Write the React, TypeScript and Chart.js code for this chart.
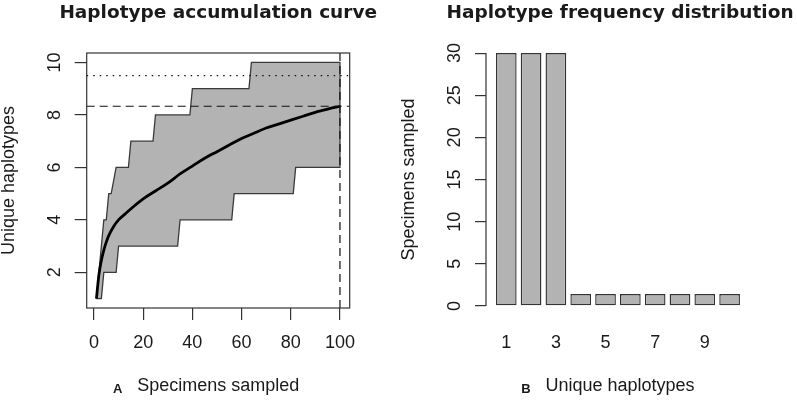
import React, { useEffect, useRef } from "react";
import { Chart, registerables } from "chart.js";

Chart.register(...registerables);

// ---------- Left panel: haplotype accumulation curve ----------
const specimenTicks = [0, 20, 40, 60, 80, 100];
const uniqueTicks = [2, 4, 6, 8, 10];

const meanX = [1, 2, 3, 4, 5, 6, 8, 10, 13, 16, 20, 25, 30, 35, 40, 45, 50, 55, 60, 65, 70, 75, 80, 85, 90, 95, 100];
const meanY = [1, 1.9, 2.45, 2.85, 3.15, 3.4, 3.75, 4.0, 4.25, 4.5, 4.8, 5.1, 5.4, 5.75, 6.05, 6.35, 6.6, 6.85, 7.1, 7.3, 7.5, 7.65, 7.8, 7.95, 8.1, 8.22, 8.33];

const upperX = [1, 4, 5, 6, 7, 9, 14, 15, 24, 25, 39, 40, 63, 64, 100];
const upperY = [1, 4, 4, 5, 5, 6, 6, 7, 7, 8, 8, 9, 9, 10, 10];
const lowerX = [1, 3, 4, 9, 10, 34, 35, 56, 57, 81, 82, 100];
const lowerY = [1, 1, 2, 2, 3, 3, 4, 4, 5, 5, 6, 6];

const dashedLevel = 8.33;
const dottedLevel = 9.5;
const sampleSize = 100;

// ---------- Right panel: haplotype frequency distribution ----------
const haplotypes = [1, 2, 3, 4, 5, 6, 7, 8, 9, 10];
const frequencies = [30, 30, 30, 1.4, 1.4, 1.4, 1.4, 1.4, 1.4, 1.4];
const frequencyTicks = [0, 5, 10, 15, 20, 25, 30];
const haplotypeLabelTicks = [1, 3, 5, 7, 9];

const SANS = "'Liberation Sans', Arial, Helvetica, sans-serif";
const TITLE_FONT = "'DejaVu Sans', Verdana, sans-serif";
const TEXT = "#1a1a1a";
const LINE = "#333333";

function labelsPlugin(title: string, letter: string, axisTitle: string) {
  return {
    id: "labels" + letter,
    afterDraw(chart: any) {
      const { ctx, chartArea } = chart;
      const cx = (chartArea.left + chartArea.right) / 2;
      ctx.save();
      ctx.font = `bold 18.5px ${TITLE_FONT}`;
      ctx.fillStyle = TEXT;
      ctx.textAlign = "center";
      ctx.textBaseline = "alphabetic";
      ctx.fillText(title, cx, 18.4);
      ctx.font = `18px ${SANS}`;
      const w = ctx.measureText(axisTitle).width;
      const titleLeft = cx - w / 2;
      ctx.font = `bold 13px ${SANS}`;
      ctx.fillText(letter, titleLeft - 19.5, chart.height - 8.3);
      ctx.restore();
    },
  };
}

const accumulationDecor = {
  id: "accumulationDecor",
  afterDatasetsDraw(chart: any) {
    const { ctx, chartArea, scales } = chart;
    const { left, right, top, bottom } = chartArea;
    ctx.save();
    ctx.strokeStyle = "#111";
    ctx.lineWidth = 1.2;
    ctx.setLineDash([8, 5]);
    let y = scales.y.getPixelForValue(dashedLevel);
    ctx.beginPath();
    ctx.moveTo(left, y);
    ctx.lineTo(right, y);
    ctx.stroke();
    const x = scales.x.getPixelForValue(sampleSize);
    ctx.beginPath();
    ctx.moveTo(x, bottom);
    ctx.lineTo(x, top);
    ctx.stroke();
    ctx.setLineDash([1.5, 5]);
    y = scales.y.getPixelForValue(dottedLevel);
    ctx.beginPath();
    ctx.moveTo(left, y);
    ctx.lineTo(right, y);
    ctx.stroke();
    ctx.restore();
  },
  afterDraw(chart: any) {
    const { ctx, chartArea } = chart;
    ctx.save();
    ctx.strokeStyle = LINE;
    ctx.lineWidth = 1.2;
    ctx.strokeRect(chartArea.left, chartArea.top, chartArea.right - chartArea.left, chartArea.bottom - chartArea.top);
    ctx.restore();
  },
};

const frequencyDecor = {
  id: "frequencyDecor",
  afterDraw(chart: any) {
    const { ctx, chartArea, scales } = chart;
    const y0 = scales.y.getPixelForValue(frequencyTicks[0]);
    const y1 = scales.y.getPixelForValue(frequencyTicks[frequencyTicks.length - 1]);
    ctx.save();
    ctx.strokeStyle = LINE;
    ctx.lineWidth = 1.2;
    ctx.beginPath();
    ctx.moveTo(chartArea.left, y0);
    ctx.lineTo(chartArea.left, y1);
    ctx.stroke();
    ctx.restore();
  },
};

function setTicks(values: number[]) {
  return (scale: any) => {
    scale.ticks = values.map((v) => ({ value: v }));
  };
}

export default function App() {
  const leftRef = useRef<HTMLCanvasElement>(null);
  const rightRef = useRef<HTMLCanvasElement>(null);

  useEffect(() => {
    const envelope = [
      ...upperX.map((x, i) => ({ x, y: upperY[i] })),
      ...lowerX.map((x, i) => ({ x, y: lowerY[i] })).reverse(),
    ];
    const meanPts = meanX.map((x, i) => ({ x, y: meanY[i] }));

    const left = new Chart(leftRef.current as HTMLCanvasElement, {
      type: "line",
      data: {
        datasets: [
          {
            data: envelope,
            fill: "shape",
            backgroundColor: "#b3b3b3",
            borderColor: "#3a3a3a",
            borderWidth: 1.3,
            pointRadius: 0,
            tension: 0,
            order: 2,
          } as any,
          {
            data: meanPts,
            fill: false,
            borderColor: "#000000",
            borderWidth: 2.8,
            pointRadius: 0,
            cubicInterpolationMode: "monotone",
            order: 1,
          } as any,
        ],
      },
      options: {
        animation: false,
        responsive: false,
        events: [],
        layout: { padding: { left: 0, right: 50.3, top: 53, bottom: 0 } },
        plugins: {
          legend: { display: false },
          tooltip: { enabled: false },
          title: { display: false },
        },
        scales: {
          x: {
            type: "linear",
            min: -2.96,
            max: 103.96,
            afterBuildTicks: setTicks(specimenTicks),
            afterFit: (s: any) => {
              s.height = 93;
            },
            grid: { display: true, drawOnChartArea: false, drawTicks: true, tickLength: 12, color: LINE, lineWidth: 1.2 },
            border: { display: false },
            ticks: { padding: 12.7, autoSkip: false, maxRotation: 0, color: TEXT, font: { family: SANS, size: 18 } },
            title: {
              display: true,
              text: "Specimens sampled",
              color: TEXT,
              font: { family: SANS, size: 18, lineHeight: 1 },
              padding: { top: 0, bottom: 5.5 },
            },
          },
          y: {
            type: "linear",
            min: 0.64,
            max: 10.36,
            afterBuildTicks: setTicks(uniqueTicks),
            afterFit: (s: any) => {
              s.width = 86.7;
            },
            grid: { display: true, drawOnChartArea: false, drawTicks: true, tickLength: 12, color: LINE, lineWidth: 1.2 },
            border: { display: false },
            ticks: {
              padding: 9.7,
              autoSkip: false,
              minRotation: 90,
              maxRotation: 90,
              crossAlign: "center",
              color: TEXT,
              font: { family: SANS, size: 18 },
            },
            title: {
              display: true,
              text: "Unique haplotypes",
              color: TEXT,
              font: { family: SANS, size: 18, lineHeight: 1 },
              padding: 0,
            },
          },
        },
      } as any,
      plugins: [accumulationDecor, labelsPlugin("Haplotype accumulation curve", "A", "Specimens sampled")],
    });

    const right = new Chart(rightRef.current as HTMLCanvasElement, {
      type: "bar",
      data: {
        datasets: [
          {
            data: haplotypes.map((h, i) => ({ x: h, y: frequencies[i] })),
            backgroundColor: "#b3b3b3",
            borderColor: "#333333",
            borderWidth: 1.4,
            borderSkipped: false,
            barPercentage: 1 / 1.2,
            categoryPercentage: 1,
          } as any,
        ],
      },
      options: {
        animation: false,
        responsive: false,
        events: [],
        layout: { padding: { left: 0, right: 43, top: 43, bottom: 0 } },
        plugins: {
          legend: { display: false },
          tooltip: { enabled: false },
          title: { display: false },
        },
        scales: {
          x: {
            type: "linear",
            offset: false,
            min: 0.1833,
            max: 10.983,
            afterBuildTicks: setTicks(haplotypeLabelTicks),
            afterFit: (s: any) => {
              s.height = 85;
            },
            grid: { display: false, drawTicks: false, offset: false },
            border: { display: false },
            ticks: { padding: 16.7, autoSkip: false, maxRotation: 0, color: TEXT, font: { family: SANS, size: 18 } },
            title: {
              display: true,
              text: "Unique haplotypes",
              color: TEXT,
              font: { family: SANS, size: 18, lineHeight: 1 },
              padding: { top: 0, bottom: 5.5 },
            },
          },
          y: {
            type: "linear",
            min: -1.2,
            max: 31.2,
            afterBuildTicks: setTicks(frequencyTicks),
            afterFit: (s: any) => {
              s.width = 86;
            },
            grid: { display: true, drawOnChartArea: false, drawTicks: true, tickLength: 11, color: LINE, lineWidth: 1.2 },
            border: { display: false },
            ticks: {
              padding: 10,
              autoSkip: false,
              minRotation: 90,
              maxRotation: 90,
              crossAlign: "center",
              color: TEXT,
              font: { family: SANS, size: 18 },
            },
            title: {
              display: true,
              text: "Specimens sampled",
              color: TEXT,
              font: { family: SANS, size: 18, lineHeight: 1 },
              padding: 0,
            },
          },
        },
      } as any,
      plugins: [frequencyDecor, labelsPlugin("Haplotype frequency distribution", "B", "Unique haplotypes")],
    });

    return () => {
      left.destroy();
      right.destroy();
    };
  }, []);

  return (
    <div
      style={{
        position: "fixed",
        left: 0,
        top: 0,
        width: 797,
        height: 401,
        display: "flex",
        background: "#ffffff",
      }}
    >
      <canvas ref={leftRef} width={400} height={401} style={{ display: "block", width: 400, height: 401 }} />
      <canvas ref={rightRef} width={397} height={401} style={{ display: "block", width: 397, height: 401 }} />
    </div>
  );
}
